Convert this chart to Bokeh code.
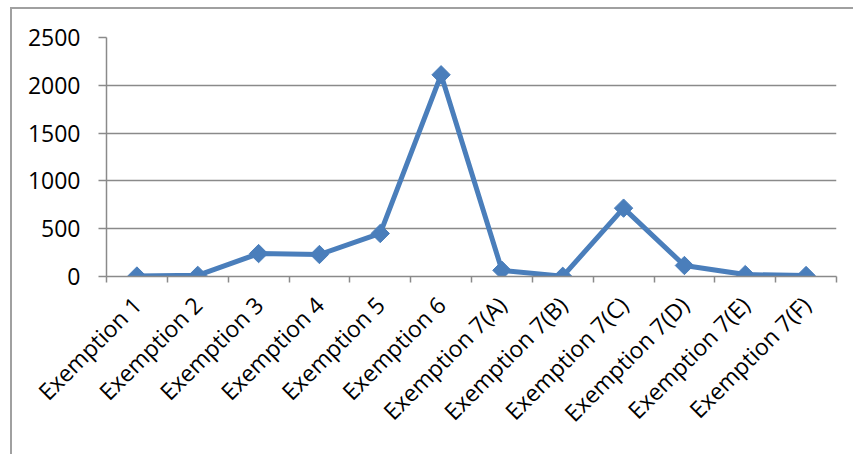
import numpy as np
from bokeh.plotting import figure
from bokeh.models import Range1d, FixedTicker
from bokeh.embed import file_html
from bokeh.resources import INLINE

categories = ["Exemption 1", "Exemption 2", "Exemption 3", "Exemption 4", "Exemption 5",
              "Exemption 6", "Exemption 7(A)", "Exemption 7(B)", "Exemption 7(C)",
              "Exemption 7(D)", "Exemption 7(E)", "Exemption 7(F)"]
values = [5, 12, 240, 230, 450, 2110, 65, 2, 715, 115, 20, 10]
y_ticks = [0, 500, 1000, 1500, 2000, 2500]

xs = [i + 0.5 for i in range(len(categories))]

FONT = "Open Sans"
GRID = "#8a8a8a"
BLUE = "#4A7EBB"

p = figure(width=843, height=447, output_backend="svg", toolbar_location=None,
           x_range=Range1d(0, len(categories)), y_range=Range1d(0, 2500),
           min_border_left=94, min_border_right=19, min_border_top=28, min_border_bottom=180)
p.margin = (7, 0, 0, 10)
p.styles = {"border-top": "2px solid #a0a0a0", "border-left": "2px solid #a0a0a0"}
p.outline_line_color = None
p.background_fill_color = "white"
p.border_fill_color = "white"

p.line(xs, values, line_color=BLUE, line_width=5)
p.scatter(xs, values, marker="square", angle=np.pi / 4, size=13,
          fill_color=BLUE, line_color=BLUE)

# y axis
p.yaxis.ticker = FixedTicker(ticks=y_ticks)
p.yaxis.axis_line_color = GRID
p.yaxis.axis_line_width = 1.5
p.yaxis.major_tick_line_color = GRID
p.yaxis.major_tick_line_width = 1.5
p.yaxis.major_tick_out = 8
p.yaxis.major_tick_in = 0
p.yaxis.minor_tick_line_color = None
p.yaxis.major_label_standoff = 18
p.yaxis.major_label_text_font = FONT
p.yaxis.major_label_text_font_size = "23px"
p.yaxis.major_label_text_color = "black"

# x axis
p.xaxis.ticker = FixedTicker(ticks=xs, minor_ticks=list(range(len(categories) + 1)))
p.xaxis.major_label_overrides = {x: c for x, c in zip(xs, categories)}
p.xaxis.major_tick_line_color = None
p.xaxis.minor_tick_line_color = GRID
p.xaxis.minor_tick_line_width = 1.5
p.xaxis.minor_tick_out = 6
p.xaxis.minor_tick_in = 0
p.xaxis.axis_line_color = GRID
p.xaxis.axis_line_width = 1.5
p.xaxis.major_label_orientation = np.pi / 4
p.xaxis.major_label_standoff = 18
p.xaxis.major_label_text_font = FONT
p.xaxis.major_label_text_font_size = "23px"
p.xaxis.major_label_text_color = "black"

p.xgrid.grid_line_color = None
p.ygrid.ticker = FixedTicker(ticks=y_ticks)
p.ygrid.grid_line_color = GRID
p.ygrid.grid_line_width = 1.5

open("out.html", "w").write(file_html(p, INLINE))
